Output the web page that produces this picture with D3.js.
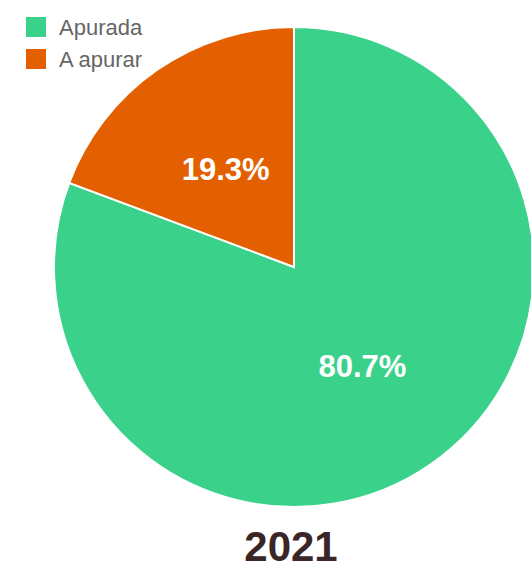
<!DOCTYPE html>
<html lang="en">
    <head>
        <meta charset="utf-8">
        <title>2021</title>
        <script src="https://d3js.org/d3.v7.min.js"></script>
        <style type="text/css">
            body { margin: 0; background: #fff; }
            text { font-family: "Liberation Sans", Arial, sans-serif; }
        </style>
    </head>
    <body>
        <script type="text/javascript">
            // data
            var labels = ["Apurada", "A apurar"];
            var values = [80.7, 19.3];
            var colors = ["#3ad28a", "#e35f00"];
            var title = "2021";

            var width = 531, height = 569;
            var cx = 294, cy = 267, radius = 240;

            var svg = d3.select("body").append("svg")
                .attr("width", width)
                .attr("height", height);

            var color = d3.scaleOrdinal().domain(labels).range(colors);

            var pie = d3.pie().sort(null).value(function(d) { return d.value; });
            var arc = d3.arc().innerRadius(0).outerRadius(radius);
            var labelArc = d3.arc().innerRadius(radius / 2).outerRadius(radius / 2);

            var data = labels.map(function(l, i) { return {label: l, value: values[i]}; });

            var g = svg.append("g").attr("transform", "translate(" + cx + "," + cy + ")");

            var slices = g.selectAll(".slice")
                .data(pie(data))
                .enter().append("g").attr("class", "slice");

            slices.append("path")
                .attr("d", arc)
                .style("fill", function(d) { return color(d.data.label); })
                .style("stroke", "#fff")
                .attr("stroke-width", 2);

            slices.append("text")
                .attr("transform", function(d) { return "translate(" + labelArc.centroid(d) + ")"; })
                .attr("text-anchor", "middle")
                .attr("dy", "0.36em")
                .style("font-size", "31px")
                .style("font-weight", "bold")
                .style("fill", "#fff")
                .text(function(d) { return d.data.value.toFixed(1) + "%"; });

            // legend
            var legend = svg.selectAll(".legend")
                .data(labels)
                .enter().append("g")
                .attr("class", "legend")
                .attr("transform", function(d, i) { return "translate(26," + (17 + i * 32) + ")"; });

            legend.append("rect")
                .attr("width", 20).attr("height", 20)
                .style("fill", function(d) { return color(d); });

            legend.append("text")
                .attr("x", 33).attr("y", 10).attr("dy", "0.36em")
                .style("font-size", "22px")
                .style("fill", "#666")
                .text(function(d) { return d; });

            // title
            svg.append("text")
                .attr("x", 291).attr("y", 561)
                .attr("text-anchor", "middle")
                .style("font-size", "42px")
                .style("font-weight", "bold")
                .style("fill", "#3a2626")
                .text(title);
        </script>
    </body>
</html>
